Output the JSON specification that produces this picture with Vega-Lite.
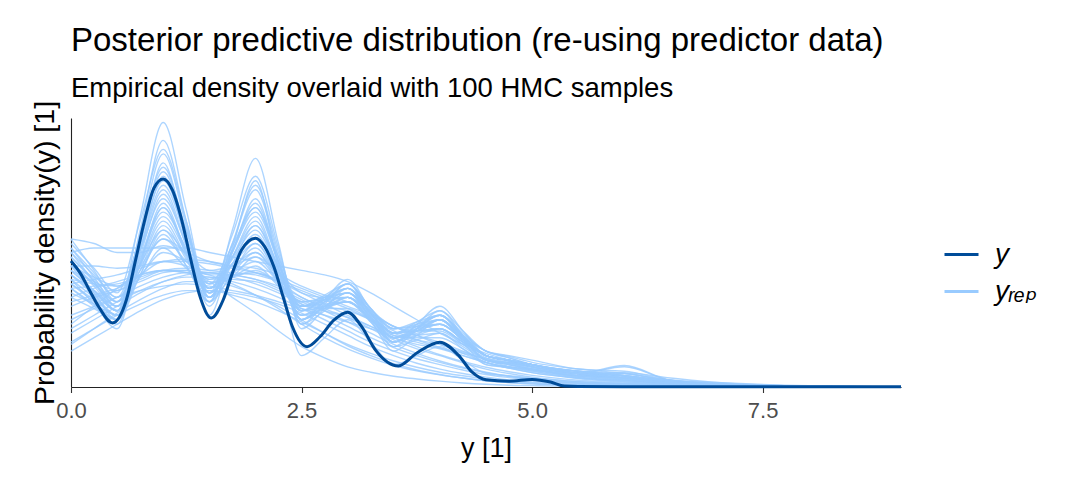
{
"$schema":"https://vega.github.io/schema/vega-lite/v6.json",
"width":830,"height":269,
"autosize":{"type":"none"},
"padding":{"left":71,"top":118,"right":178,"bottom":90},
"background":"white",
"config":{"view":{"stroke":null},"font":"Liberation Sans"},
"title":{"text":"Posterior predictive distribution (re-using predictor data)","subtitle":"Empirical density overlaid with 100 HMC samples","anchor":"start","frame":"group","font":"Liberation Sans","subtitleFont":"Liberation Sans","fontSize":33,"subtitleFontSize":27.5,"fontWeight":"normal","color":"#000","subtitleColor":"#000","offset":-2,"subtitlePadding":17},
"datasets":{
"yrep":[
{"c":1,"x":0,"d":0.30},{"c":1,"x":0.25,"d":0.235},{"c":1,"x":0.5,"d":0.17},{"c":1,"x":0.75,"d":0.38},{"c":1,"x":1,"d":0.59},{"c":1,"x":1.25,"d":0.395},{"c":1,"x":1.5,"d":0.20},{"c":1,"x":1.75,"d":0.32},{"c":1,"x":2,"d":0.44},{"c":1,"x":2.25,"d":0.29},{"c":1,"x":2.5,"d":0.14},{"c":1,"x":2.75,"d":0.17},{"c":1,"x":3,"d":0.20},{"c":1,"x":3.25,"d":0.145},{"c":1,"x":3.5,"d":0.09},{"c":1,"x":3.75,"d":0.105},{"c":1,"x":4,"d":0.12},{"c":1,"x":4.25,"d":0.085},{"c":1,"x":4.5,"d":0.05},{"c":1,"x":4.75,"d":0.043},{"c":1,"x":5,"d":0.035},{"c":1,"x":5.5,"d":0.02},{"c":1,"x":6,"d":0.015},{"c":1,"x":6.5,"d":0.008},{"c":1,"x":7,"d":0.004},{"c":1,"x":8,"d":0.001},{"c":1,"x":9,"d":0.0002},
{"c":2,"x":0,"d":0.27},{"c":2,"x":0.25,"d":0.21},{"c":2,"x":0.5,"d":0.15},{"c":2,"x":0.75,"d":0.35},{"c":2,"x":1,"d":0.55},{"c":2,"x":1.25,"d":0.37},{"c":2,"x":1.5,"d":0.19},{"c":2,"x":1.75,"d":0.35},{"c":2,"x":2,"d":0.51},{"c":2,"x":2.25,"d":0.32},{"c":2,"x":2.5,"d":0.13},{"c":2,"x":2.75,"d":0.175},{"c":2,"x":3,"d":0.22},{"c":2,"x":3.25,"d":0.15},{"c":2,"x":3.5,"d":0.08},{"c":2,"x":3.75,"d":0.115},{"c":2,"x":4,"d":0.15},{"c":2,"x":4.25,"d":0.10},{"c":2,"x":4.5,"d":0.05},{"c":2,"x":4.75,"d":0.045},{"c":2,"x":5,"d":0.04},{"c":2,"x":5.5,"d":0.025},{"c":2,"x":6,"d":0.02},{"c":2,"x":6.5,"d":0.01},{"c":2,"x":7,"d":0.005},{"c":2,"x":8,"d":0.001},{"c":2,"x":9,"d":0.0002},
{"c":3,"x":0,"d":0.25},{"c":3,"x":0.25,"d":0.205},{"c":3,"x":0.5,"d":0.16},{"c":3,"x":0.75,"d":0.34},{"c":3,"x":1,"d":0.52},{"c":3,"x":1.25,"d":0.36},{"c":3,"x":1.5,"d":0.20},{"c":3,"x":1.75,"d":0.30},{"c":3,"x":2,"d":0.40},{"c":3,"x":2.25,"d":0.275},{"c":3,"x":2.5,"d":0.15},{"c":3,"x":2.75,"d":0.18},{"c":3,"x":3,"d":0.21},{"c":3,"x":3.25,"d":0.155},{"c":3,"x":3.5,"d":0.10},{"c":3,"x":3.75,"d":0.13},{"c":3,"x":4,"d":0.16},{"c":3,"x":4.25,"d":0.11},{"c":3,"x":4.5,"d":0.06},{"c":3,"x":4.75,"d":0.053},{"c":3,"x":5,"d":0.045},{"c":3,"x":5.5,"d":0.03},{"c":3,"x":6,"d":0.045},{"c":3,"x":6.5,"d":0.015},{"c":3,"x":7,"d":0.007},{"c":3,"x":8,"d":0.001},{"c":3,"x":9,"d":0.0002},
{"c":4,"x":0,"d":0.31},{"c":4,"x":0.25,"d":0.245},{"c":4,"x":0.5,"d":0.18},{"c":4,"x":0.75,"d":0.335},{"c":4,"x":1,"d":0.49},{"c":4,"x":1.25,"d":0.35},{"c":4,"x":1.5,"d":0.21},{"c":4,"x":1.75,"d":0.29},{"c":4,"x":2,"d":0.37},{"c":4,"x":2.25,"d":0.265},{"c":4,"x":2.5,"d":0.16},{"c":4,"x":2.75,"d":0.175},{"c":4,"x":3,"d":0.19},{"c":4,"x":3.25,"d":0.145},{"c":4,"x":3.5,"d":0.10},{"c":4,"x":3.75,"d":0.115},{"c":4,"x":4,"d":0.13},{"c":4,"x":4.25,"d":0.095},{"c":4,"x":4.5,"d":0.06},{"c":4,"x":4.75,"d":0.05},{"c":4,"x":5,"d":0.04},{"c":4,"x":5.5,"d":0.025},{"c":4,"x":6,"d":0.02},{"c":4,"x":6.5,"d":0.01},{"c":4,"x":7,"d":0.005},{"c":4,"x":8,"d":0.001},{"c":4,"x":9,"d":0.0002},
{"c":5,"x":0,"d":0.22},{"c":5,"x":0.25,"d":0.18},{"c":5,"x":0.5,"d":0.14},{"c":5,"x":0.75,"d":0.305},{"c":5,"x":1,"d":0.47},{"c":5,"x":1.25,"d":0.325},{"c":5,"x":1.5,"d":0.18},{"c":5,"x":1.75,"d":0.30},{"c":5,"x":2,"d":0.42},{"c":5,"x":2.25,"d":0.28},{"c":5,"x":2.5,"d":0.14},{"c":5,"x":2.75,"d":0.185},{"c":5,"x":3,"d":0.23},{"c":5,"x":3.25,"d":0.16},{"c":5,"x":3.5,"d":0.09},{"c":5,"x":3.75,"d":0.13},{"c":5,"x":4,"d":0.17},{"c":5,"x":4.25,"d":0.115},{"c":5,"x":4.5,"d":0.06},{"c":5,"x":4.75,"d":0.055},{"c":5,"x":5,"d":0.05},{"c":5,"x":5.5,"d":0.03},{"c":5,"x":6,"d":0.025},{"c":5,"x":6.5,"d":0.012},{"c":5,"x":7,"d":0.006},{"c":5,"x":8,"d":0.001},{"c":5,"x":9,"d":0.0002},
{"c":6,"x":0,"d":0.28},{"c":6,"x":0.25,"d":0.225},{"c":6,"x":0.5,"d":0.17},{"c":6,"x":0.75,"d":0.31},{"c":6,"x":1,"d":0.45},{"c":6,"x":1.25,"d":0.335},{"c":6,"x":1.5,"d":0.22},{"c":6,"x":1.75,"d":0.285},{"c":6,"x":2,"d":0.35},{"c":6,"x":2.25,"d":0.26},{"c":6,"x":2.5,"d":0.17},{"c":6,"x":2.75,"d":0.195},{"c":6,"x":3,"d":0.22},{"c":6,"x":3.25,"d":0.165},{"c":6,"x":3.5,"d":0.11},{"c":6,"x":3.75,"d":0.125},{"c":6,"x":4,"d":0.14},{"c":6,"x":4.25,"d":0.105},{"c":6,"x":4.5,"d":0.07},{"c":6,"x":4.75,"d":0.06},{"c":6,"x":5,"d":0.05},{"c":6,"x":5.5,"d":0.03},{"c":6,"x":6,"d":0.02},{"c":6,"x":6.5,"d":0.01},{"c":6,"x":7,"d":0.005},{"c":6,"x":8,"d":0.001},{"c":6,"x":9,"d":0.0002},
{"c":7,"x":0,"d":0.24},{"c":7,"x":0.25,"d":0.20},{"c":7,"x":0.5,"d":0.16},{"c":7,"x":0.75,"d":0.295},{"c":7,"x":1,"d":0.43},{"c":7,"x":1.25,"d":0.315},{"c":7,"x":1.5,"d":0.20},{"c":7,"x":1.75,"d":0.29},{"c":7,"x":2,"d":0.38},{"c":7,"x":2.25,"d":0.265},{"c":7,"x":2.5,"d":0.15},{"c":7,"x":2.75,"d":0.175},{"c":7,"x":3,"d":0.20},{"c":7,"x":3.25,"d":0.15},{"c":7,"x":3.5,"d":0.10},{"c":7,"x":3.75,"d":0.125},{"c":7,"x":4,"d":0.15},{"c":7,"x":4.25,"d":0.105},{"c":7,"x":4.5,"d":0.06},{"c":7,"x":4.75,"d":0.05},{"c":7,"x":5,"d":0.04},{"c":7,"x":5.5,"d":0.025},{"c":7,"x":6,"d":0.03},{"c":7,"x":6.5,"d":0.012},{"c":7,"x":7,"d":0.006},{"c":7,"x":8,"d":0.001},{"c":7,"x":9,"d":0.0002},
{"c":8,"x":0,"d":0.33},{"c":8,"x":0.25,"d":0.26},{"c":8,"x":0.5,"d":0.19},{"c":8,"x":0.75,"d":0.305},{"c":8,"x":1,"d":0.42},{"c":8,"x":1.25,"d":0.32},{"c":8,"x":1.5,"d":0.22},{"c":8,"x":1.75,"d":0.275},{"c":8,"x":2,"d":0.33},{"c":8,"x":2.25,"d":0.255},{"c":8,"x":2.5,"d":0.18},{"c":8,"x":2.75,"d":0.195},{"c":8,"x":3,"d":0.21},{"c":8,"x":3.25,"d":0.165},{"c":8,"x":3.5,"d":0.12},{"c":8,"x":3.75,"d":0.125},{"c":8,"x":4,"d":0.13},{"c":8,"x":4.25,"d":0.10},{"c":8,"x":4.5,"d":0.07},{"c":8,"x":4.75,"d":0.058},{"c":8,"x":5,"d":0.045},{"c":8,"x":5.5,"d":0.03},{"c":8,"x":6,"d":0.02},{"c":8,"x":6.5,"d":0.01},{"c":8,"x":7,"d":0.005},{"c":8,"x":8,"d":0.001},{"c":8,"x":9,"d":0.0002},
{"c":9,"x":0,"d":0.20},{"c":9,"x":0.25,"d":0.175},{"c":9,"x":0.5,"d":0.15},{"c":9,"x":0.75,"d":0.275},{"c":9,"x":1,"d":0.40},{"c":9,"x":1.25,"d":0.295},{"c":9,"x":1.5,"d":0.19},{"c":9,"x":1.75,"d":0.275},{"c":9,"x":2,"d":0.36},{"c":9,"x":2.25,"d":0.26},{"c":9,"x":2.5,"d":0.16},{"c":9,"x":2.75,"d":0.19},{"c":9,"x":3,"d":0.22},{"c":9,"x":3.25,"d":0.165},{"c":9,"x":3.5,"d":0.11},{"c":9,"x":3.75,"d":0.135},{"c":9,"x":4,"d":0.16},{"c":9,"x":4.25,"d":0.115},{"c":9,"x":4.5,"d":0.07},{"c":9,"x":4.75,"d":0.06},{"c":9,"x":5,"d":0.05},{"c":9,"x":5.5,"d":0.035},{"c":9,"x":6,"d":0.025},{"c":9,"x":6.5,"d":0.012},{"c":9,"x":7,"d":0.006},{"c":9,"x":8,"d":0.001},{"c":9,"x":9,"d":0.0002},
{"c":10,"x":0,"d":0.29},{"c":10,"x":0.25,"d":0.235},{"c":10,"x":0.5,"d":0.18},{"c":10,"x":0.75,"d":0.285},{"c":10,"x":1,"d":0.39},{"c":10,"x":1.25,"d":0.31},{"c":10,"x":1.5,"d":0.23},{"c":10,"x":1.75,"d":0.275},{"c":10,"x":2,"d":0.32},{"c":10,"x":2.25,"d":0.25},{"c":10,"x":2.5,"d":0.18},{"c":10,"x":2.75,"d":0.19},{"c":10,"x":3,"d":0.20},{"c":10,"x":3.25,"d":0.16},{"c":10,"x":3.5,"d":0.12},{"c":10,"x":3.75,"d":0.13},{"c":10,"x":4,"d":0.14},{"c":10,"x":4.25,"d":0.105},{"c":10,"x":4.5,"d":0.07},{"c":10,"x":4.75,"d":0.06},{"c":10,"x":5,"d":0.05},{"c":10,"x":5.5,"d":0.03},{"c":10,"x":6,"d":0.02},{"c":10,"x":6.5,"d":0.01},{"c":10,"x":7,"d":0.005},{"c":10,"x":8,"d":0.001},{"c":10,"x":9,"d":0.0002},
{"c":11,"x":0,"d":0.26},{"c":11,"x":0.25,"d":0.215},{"c":11,"x":0.5,"d":0.17},{"c":11,"x":0.75,"d":0.27},{"c":11,"x":1,"d":0.37},{"c":11,"x":1.25,"d":0.29},{"c":11,"x":1.5,"d":0.21},{"c":11,"x":1.75,"d":0.26},{"c":11,"x":2,"d":0.31},{"c":11,"x":2.25,"d":0.24},{"c":11,"x":2.5,"d":0.17},{"c":11,"x":2.75,"d":0.18},{"c":11,"x":3,"d":0.19},{"c":11,"x":3.25,"d":0.15},{"c":11,"x":3.5,"d":0.11},{"c":11,"x":3.75,"d":0.12},{"c":11,"x":4,"d":0.13},{"c":11,"x":4.25,"d":0.10},{"c":11,"x":4.5,"d":0.07},{"c":11,"x":4.75,"d":0.058},{"c":11,"x":5,"d":0.045},{"c":11,"x":5.5,"d":0.03},{"c":11,"x":6,"d":0.02},{"c":11,"x":6.5,"d":0.01},{"c":11,"x":7,"d":0.005},{"c":11,"x":8,"d":0.001},{"c":11,"x":9,"d":0.0002},
{"c":12,"x":0,"d":0.23},{"c":12,"x":0.25,"d":0.195},{"c":12,"x":0.5,"d":0.16},{"c":12,"x":0.75,"d":0.26},{"c":12,"x":1,"d":0.36},{"c":12,"x":1.25,"d":0.285},{"c":12,"x":1.5,"d":0.21},{"c":12,"x":1.75,"d":0.275},{"c":12,"x":2,"d":0.34},{"c":12,"x":2.25,"d":0.255},{"c":12,"x":2.5,"d":0.17},{"c":12,"x":2.75,"d":0.20},{"c":12,"x":3,"d":0.23},{"c":12,"x":3.25,"d":0.175},{"c":12,"x":3.5,"d":0.12},{"c":12,"x":3.75,"d":0.145},{"c":12,"x":4,"d":0.17},{"c":12,"x":4.25,"d":0.125},{"c":12,"x":4.5,"d":0.08},{"c":12,"x":4.75,"d":0.068},{"c":12,"x":5,"d":0.055},{"c":12,"x":5.5,"d":0.04},{"c":12,"x":6,"d":0.03},{"c":12,"x":6.5,"d":0.015},{"c":12,"x":7,"d":0.007},{"c":12,"x":8,"d":0.0015},{"c":12,"x":9,"d":0.0003},
{"c":13,"x":0,"d":0.30},{"c":13,"x":0.25,"d":0.25},{"c":13,"x":0.5,"d":0.20},{"c":13,"x":0.75,"d":0.275},{"c":13,"x":1,"d":0.35},{"c":13,"x":1.25,"d":0.295},{"c":13,"x":1.5,"d":0.24},{"c":13,"x":1.75,"d":0.27},{"c":13,"x":2,"d":0.30},{"c":13,"x":2.25,"d":0.245},{"c":13,"x":2.5,"d":0.19},{"c":13,"x":2.75,"d":0.20},{"c":13,"x":3,"d":0.21},{"c":13,"x":3.25,"d":0.17},{"c":13,"x":3.5,"d":0.13},{"c":13,"x":3.75,"d":0.14},{"c":13,"x":4,"d":0.15},{"c":13,"x":4.25,"d":0.115},{"c":13,"x":4.5,"d":0.08},{"c":13,"x":4.75,"d":0.065},{"c":13,"x":5,"d":0.05},{"c":13,"x":5.5,"d":0.035},{"c":13,"x":6,"d":0.025},{"c":13,"x":6.5,"d":0.012},{"c":13,"x":7,"d":0.006},{"c":13,"x":8,"d":0.001},{"c":13,"x":9,"d":0.0002},
{"c":14,"x":0,"d":0.21},{"c":14,"x":0.25,"d":0.185},{"c":14,"x":0.5,"d":0.16},{"c":14,"x":0.75,"d":0.25},{"c":14,"x":1,"d":0.34},{"c":14,"x":1.25,"d":0.27},{"c":14,"x":1.5,"d":0.20},{"c":14,"x":1.75,"d":0.245},{"c":14,"x":2,"d":0.29},{"c":14,"x":2.25,"d":0.235},{"c":14,"x":2.5,"d":0.18},{"c":14,"x":2.75,"d":0.20},{"c":14,"x":3,"d":0.22},{"c":14,"x":3.25,"d":0.175},{"c":14,"x":3.5,"d":0.13},{"c":14,"x":3.75,"d":0.145},{"c":14,"x":4,"d":0.16},{"c":14,"x":4.25,"d":0.12},{"c":14,"x":4.5,"d":0.08},{"c":14,"x":4.75,"d":0.07},{"c":14,"x":5,"d":0.06},{"c":14,"x":5.5,"d":0.04},{"c":14,"x":6,"d":0.035},{"c":14,"x":6.5,"d":0.015},{"c":14,"x":7,"d":0.008},{"c":14,"x":8,"d":0.002},{"c":14,"x":9,"d":0.0004},
{"c":15,"x":0,"d":0.27},{"c":15,"x":0.25,"d":0.23},{"c":15,"x":0.5,"d":0.19},{"c":15,"x":0.75,"d":0.26},{"c":15,"x":1,"d":0.33},{"c":15,"x":1.25,"d":0.28},{"c":15,"x":1.5,"d":0.23},{"c":15,"x":1.75,"d":0.255},{"c":15,"x":2,"d":0.28},{"c":15,"x":2.25,"d":0.235},{"c":15,"x":2.5,"d":0.19},{"c":15,"x":2.75,"d":0.195},{"c":15,"x":3,"d":0.20},{"c":15,"x":3.25,"d":0.165},{"c":15,"x":3.5,"d":0.13},{"c":15,"x":3.75,"d":0.135},{"c":15,"x":4,"d":0.14},{"c":15,"x":4.25,"d":0.11},{"c":15,"x":4.5,"d":0.08},{"c":15,"x":4.75,"d":0.065},{"c":15,"x":5,"d":0.05},{"c":15,"x":5.5,"d":0.035},{"c":15,"x":6,"d":0.025},{"c":15,"x":6.5,"d":0.012},{"c":15,"x":7,"d":0.006},{"c":15,"x":8,"d":0.001},{"c":15,"x":9,"d":0.0002},
{"c":16,"x":0,"d":0.25},{"c":16,"x":0.25,"d":0.215},{"c":16,"x":0.5,"d":0.18},{"c":16,"x":0.75,"d":0.245},{"c":16,"x":1,"d":0.31},{"c":16,"x":1.25,"d":0.265},{"c":16,"x":1.5,"d":0.22},{"c":16,"x":1.75,"d":0.245},{"c":16,"x":2,"d":0.27},{"c":16,"x":2.25,"d":0.225},{"c":16,"x":2.5,"d":0.18},{"c":16,"x":2.75,"d":0.185},{"c":16,"x":3,"d":0.19},{"c":16,"x":3.25,"d":0.155},{"c":16,"x":3.5,"d":0.12},{"c":16,"x":3.75,"d":0.125},{"c":16,"x":4,"d":0.13},{"c":16,"x":4.25,"d":0.10},{"c":16,"x":4.5,"d":0.07},{"c":16,"x":4.75,"d":0.058},{"c":16,"x":5,"d":0.045},{"c":16,"x":5.5,"d":0.03},{"c":16,"x":6,"d":0.02},{"c":16,"x":6.5,"d":0.01},{"c":16,"x":7,"d":0.005},{"c":16,"x":8,"d":0.001},{"c":16,"x":9,"d":0.0002},
{"c":17,"x":0,"d":0.32},{"c":17,"x":0.25,"d":0.265},{"c":17,"x":0.5,"d":0.21},{"c":17,"x":0.75,"d":0.37},{"c":17,"x":1,"d":0.53},{"c":17,"x":1.25,"d":0.37},{"c":17,"x":1.5,"d":0.21},{"c":17,"x":1.75,"d":0.34},{"c":17,"x":2,"d":0.47},{"c":17,"x":2.25,"d":0.31},{"c":17,"x":2.5,"d":0.15},{"c":17,"x":2.75,"d":0.19},{"c":17,"x":3,"d":0.23},{"c":17,"x":3.25,"d":0.165},{"c":17,"x":3.5,"d":0.10},{"c":17,"x":3.75,"d":0.14},{"c":17,"x":4,"d":0.18},{"c":17,"x":4.25,"d":0.125},{"c":17,"x":4.5,"d":0.07},{"c":17,"x":4.75,"d":0.06},{"c":17,"x":5,"d":0.05},{"c":17,"x":5.5,"d":0.03},{"c":17,"x":6,"d":0.048},{"c":17,"x":6.5,"d":0.015},{"c":17,"x":7,"d":0.007},{"c":17,"x":8,"d":0.001},{"c":17,"x":9,"d":0.0002},
{"c":18,"x":0,"d":0.24},{"c":18,"x":0.25,"d":0.185},{"c":18,"x":0.5,"d":0.13},{"c":18,"x":0.75,"d":0.315},{"c":18,"x":1,"d":0.50},{"c":18,"x":1.25,"d":0.33},{"c":18,"x":1.5,"d":0.16},{"c":18,"x":1.75,"d":0.31},{"c":18,"x":2,"d":0.46},{"c":18,"x":2.25,"d":0.265},{"c":18,"x":2.5,"d":0.07},{"c":18,"x":2.75,"d":0.11},{"c":18,"x":3,"d":0.15},{"c":18,"x":3.25,"d":0.10},{"c":18,"x":3.5,"d":0.05},{"c":18,"x":3.75,"d":0.07},{"c":18,"x":4,"d":0.09},{"c":18,"x":4.25,"d":0.06},{"c":18,"x":4.5,"d":0.03},{"c":18,"x":4.75,"d":0.025},{"c":18,"x":5,"d":0.02},{"c":18,"x":5.5,"d":0.012},{"c":18,"x":6,"d":0.008},{"c":18,"x":6.5,"d":0.004},{"c":18,"x":7,"d":0.002},{"c":18,"x":8,"d":0.0005},{"c":18,"x":9,"d":0.0001},
{"c":19,"x":0,"d":0.30},{"c":19,"x":0.25,"d":0.31},{"c":19,"x":0.5,"d":0.31},{"c":19,"x":0.75,"d":0.31},{"c":19,"x":1,"d":0.31},{"c":19,"x":1.25,"d":0.31},{"c":19,"x":1.5,"d":0.30},{"c":19,"x":1.75,"d":0.29},{"c":19,"x":2,"d":0.28},{"c":19,"x":2.25,"d":0.27},{"c":19,"x":2.5,"d":0.26},{"c":19,"x":2.75,"d":0.25},{"c":19,"x":3,"d":0.235},{"c":19,"x":3.25,"d":0.21},{"c":19,"x":3.5,"d":0.18},{"c":19,"x":3.75,"d":0.15},{"c":19,"x":4,"d":0.12},{"c":19,"x":4.25,"d":0.095},{"c":19,"x":4.5,"d":0.075},{"c":19,"x":4.75,"d":0.06},{"c":19,"x":5,"d":0.045},{"c":19,"x":5.5,"d":0.03},{"c":19,"x":6,"d":0.02},{"c":19,"x":6.5,"d":0.012},{"c":19,"x":7,"d":0.007},{"c":19,"x":8,"d":0.002},{"c":19,"x":9,"d":0.0005},
{"c":20,"x":0,"d":0.10},{"c":20,"x":0.25,"d":0.13},{"c":20,"x":0.5,"d":0.16},{"c":20,"x":0.75,"d":0.185},{"c":20,"x":1,"d":0.205},{"c":20,"x":1.25,"d":0.215},{"c":20,"x":1.5,"d":0.215},{"c":20,"x":1.75,"d":0.205},{"c":20,"x":2,"d":0.19},{"c":20,"x":2.25,"d":0.17},{"c":20,"x":2.5,"d":0.145},{"c":20,"x":2.75,"d":0.12},{"c":20,"x":3,"d":0.095},{"c":20,"x":3.25,"d":0.075},{"c":20,"x":3.5,"d":0.058},{"c":20,"x":3.75,"d":0.044},{"c":20,"x":4,"d":0.033},{"c":20,"x":4.25,"d":0.025},{"c":20,"x":4.5,"d":0.018},{"c":20,"x":4.75,"d":0.013},{"c":20,"x":5,"d":0.009},{"c":20,"x":5.5,"d":0.005},{"c":20,"x":6,"d":0.003},{"c":20,"x":6.5,"d":0.0015},{"c":20,"x":7,"d":0.0008},{"c":20,"x":8,"d":0.0002},{"c":20,"x":9,"d":0.0001},
{"c":21,"x":0,"d":0.08},{"c":21,"x":0.25,"d":0.11},{"c":21,"x":0.5,"d":0.14},{"c":21,"x":0.75,"d":0.17},{"c":21,"x":1,"d":0.195},{"c":21,"x":1.25,"d":0.21},{"c":21,"x":1.5,"d":0.215},{"c":21,"x":1.75,"d":0.21},{"c":21,"x":2,"d":0.20},{"c":21,"x":2.25,"d":0.185},{"c":21,"x":2.5,"d":0.165},{"c":21,"x":2.75,"d":0.14},{"c":21,"x":3,"d":0.115},{"c":21,"x":3.25,"d":0.09},{"c":21,"x":3.5,"d":0.07},{"c":21,"x":3.75,"d":0.053},{"c":21,"x":4,"d":0.04},{"c":21,"x":4.25,"d":0.03},{"c":21,"x":4.5,"d":0.022},{"c":21,"x":4.75,"d":0.016},{"c":21,"x":5,"d":0.011},{"c":21,"x":5.5,"d":0.006},{"c":21,"x":6,"d":0.003},{"c":21,"x":6.5,"d":0.0015},{"c":21,"x":7,"d":0.0008},{"c":21,"x":8,"d":0.0002},{"c":21,"x":9,"d":0.0001},
{"c":22,"x":0,"d":0.14},{"c":22,"x":0.25,"d":0.18},{"c":22,"x":0.5,"d":0.22},{"c":22,"x":0.75,"d":0.25},{"c":22,"x":1,"d":0.26},{"c":22,"x":1.25,"d":0.255},{"c":22,"x":1.5,"d":0.235},{"c":22,"x":1.75,"d":0.20},{"c":22,"x":2,"d":0.165},{"c":22,"x":2.25,"d":0.125},{"c":22,"x":2.5,"d":0.09},{"c":22,"x":2.75,"d":0.065},{"c":22,"x":3,"d":0.045},{"c":22,"x":3.25,"d":0.033},{"c":22,"x":3.5,"d":0.024},{"c":22,"x":3.75,"d":0.018},{"c":22,"x":4,"d":0.013},{"c":22,"x":4.25,"d":0.009},{"c":22,"x":4.5,"d":0.006},{"c":22,"x":4.75,"d":0.004},{"c":22,"x":5,"d":0.003},{"c":22,"x":5.5,"d":0.0015},{"c":22,"x":6,"d":0.0008},{"c":22,"x":6.5,"d":0.0004},{"c":22,"x":7,"d":0.0002},{"c":22,"x":8,"d":0.0001},{"c":22,"x":9,"d":0.0001},
{"c":23,"x":0,"d":0.24},{"c":23,"x":0.25,"d":0.23},{"c":23,"x":0.5,"d":0.225},{"c":23,"x":0.75,"d":0.25},{"c":23,"x":1,"d":0.28},{"c":23,"x":1.25,"d":0.27},{"c":23,"x":1.5,"d":0.25},{"c":23,"x":1.75,"d":0.25},{"c":23,"x":2,"d":0.255},{"c":23,"x":2.25,"d":0.235},{"c":23,"x":2.5,"d":0.20},{"c":23,"x":2.75,"d":0.18},{"c":23,"x":3,"d":0.17},{"c":23,"x":3.25,"d":0.15},{"c":23,"x":3.5,"d":0.12},{"c":23,"x":3.75,"d":0.105},{"c":23,"x":4,"d":0.095},{"c":23,"x":4.25,"d":0.075},{"c":23,"x":4.5,"d":0.055},{"c":23,"x":4.75,"d":0.042},{"c":23,"x":5,"d":0.032},{"c":23,"x":5.5,"d":0.02},{"c":23,"x":6,"d":0.012},{"c":23,"x":6.5,"d":0.006},{"c":23,"x":7,"d":0.003},{"c":23,"x":8,"d":0.0007},{"c":23,"x":9,"d":0.0002},
{"c":24,"x":0,"d":0.18},{"c":24,"x":0.25,"d":0.20},{"c":24,"x":0.5,"d":0.215},{"c":24,"x":0.75,"d":0.235},{"c":24,"x":1,"d":0.255},{"c":24,"x":1.25,"d":0.26},{"c":24,"x":1.5,"d":0.255},{"c":24,"x":1.75,"d":0.25},{"c":24,"x":2,"d":0.24},{"c":24,"x":2.25,"d":0.225},{"c":24,"x":2.5,"d":0.20},{"c":24,"x":2.75,"d":0.175},{"c":24,"x":3,"d":0.155},{"c":24,"x":3.25,"d":0.13},{"c":24,"x":3.5,"d":0.105},{"c":24,"x":3.75,"d":0.085},{"c":24,"x":4,"d":0.07},{"c":24,"x":4.25,"d":0.054},{"c":24,"x":4.5,"d":0.04},{"c":24,"x":4.75,"d":0.03},{"c":24,"x":5,"d":0.022},{"c":24,"x":5.5,"d":0.012},{"c":24,"x":6,"d":0.007},{"c":24,"x":6.5,"d":0.004},{"c":24,"x":7,"d":0.002},{"c":24,"x":8,"d":0.0005},{"c":24,"x":9,"d":0.0001},
{"c":25,"x":0,"d":0.12},{"c":25,"x":0.25,"d":0.15},{"c":25,"x":0.5,"d":0.18},{"c":25,"x":0.75,"d":0.21},{"c":25,"x":1,"d":0.235},{"c":25,"x":1.25,"d":0.25},{"c":25,"x":1.5,"d":0.255},{"c":25,"x":1.75,"d":0.25},{"c":25,"x":2,"d":0.24},{"c":25,"x":2.25,"d":0.22},{"c":25,"x":2.5,"d":0.195},{"c":25,"x":2.75,"d":0.17},{"c":25,"x":3,"d":0.145},{"c":25,"x":3.25,"d":0.12},{"c":25,"x":3.5,"d":0.095},{"c":25,"x":3.75,"d":0.075},{"c":25,"x":4,"d":0.058},{"c":25,"x":4.25,"d":0.044},{"c":25,"x":4.5,"d":0.033},{"c":25,"x":4.75,"d":0.024},{"c":25,"x":5,"d":0.017},{"c":25,"x":5.5,"d":0.009},{"c":25,"x":6,"d":0.005},{"c":25,"x":6.5,"d":0.0025},{"c":25,"x":7,"d":0.0012},{"c":25,"x":8,"d":0.0003},{"c":25,"x":9,"d":0.0001},
{"c":26,"x":0,"d":0.26},{"c":26,"x":0.25,"d":0.235},{"c":26,"x":0.5,"d":0.215},{"c":26,"x":0.75,"d":0.25},{"c":26,"x":1,"d":0.30},{"c":26,"x":1.25,"d":0.28},{"c":26,"x":1.5,"d":0.24},{"c":26,"x":1.75,"d":0.245},{"c":26,"x":2,"d":0.26},{"c":26,"x":2.25,"d":0.23},{"c":26,"x":2.5,"d":0.185},{"c":26,"x":2.75,"d":0.175},{"c":26,"x":3,"d":0.175},{"c":26,"x":3.25,"d":0.15},{"c":26,"x":3.5,"d":0.115},{"c":26,"x":3.75,"d":0.11},{"c":26,"x":4,"d":0.11},{"c":26,"x":4.25,"d":0.085},{"c":26,"x":4.5,"d":0.055},{"c":26,"x":4.75,"d":0.045},{"c":26,"x":5,"d":0.038},{"c":26,"x":5.5,"d":0.022},{"c":26,"x":6,"d":0.015},{"c":26,"x":6.5,"d":0.007},{"c":26,"x":7,"d":0.003},{"c":26,"x":8,"d":0.0007},{"c":26,"x":9,"d":0.0002},
{"c":27,"x":0,"d":0.095},{"c":27,"x":0.25,"d":0.13},{"c":27,"x":0.5,"d":0.165},{"c":27,"x":0.75,"d":0.195},{"c":27,"x":1,"d":0.22},{"c":27,"x":1.25,"d":0.235},{"c":27,"x":1.5,"d":0.235},{"c":27,"x":1.75,"d":0.225},{"c":27,"x":2,"d":0.205},{"c":27,"x":2.25,"d":0.18},{"c":27,"x":2.5,"d":0.15},{"c":27,"x":2.75,"d":0.12},{"c":27,"x":3,"d":0.092},{"c":27,"x":3.25,"d":0.07},{"c":27,"x":3.5,"d":0.052},{"c":27,"x":3.75,"d":0.038},{"c":27,"x":4,"d":0.028},{"c":27,"x":4.25,"d":0.02},{"c":27,"x":4.5,"d":0.014},{"c":27,"x":4.75,"d":0.01},{"c":27,"x":5,"d":0.007},{"c":27,"x":5.5,"d":0.0035},{"c":27,"x":6,"d":0.0017},{"c":27,"x":6.5,"d":0.0008},{"c":27,"x":7,"d":0.0004},{"c":27,"x":8,"d":0.0001},{"c":27,"x":9,"d":0.0001},
{"c":28,"x":0,"d":0.33},{"c":28,"x":0.25,"d":0.32},{"c":28,"x":0.5,"d":0.30},{"c":28,"x":0.75,"d":0.30},{"c":28,"x":1,"d":0.315},{"c":28,"x":1.25,"d":0.30},{"c":28,"x":1.5,"d":0.28},{"c":28,"x":1.75,"d":0.27},{"c":28,"x":2,"d":0.265},{"c":28,"x":2.25,"d":0.25},{"c":28,"x":2.5,"d":0.225},{"c":28,"x":2.75,"d":0.205},{"c":28,"x":3,"d":0.19},{"c":28,"x":3.25,"d":0.165},{"c":28,"x":3.5,"d":0.135},{"c":28,"x":3.75,"d":0.115},{"c":28,"x":4,"d":0.10},{"c":28,"x":4.25,"d":0.08},{"c":28,"x":4.5,"d":0.06},{"c":28,"x":4.75,"d":0.046},{"c":28,"x":5,"d":0.036},{"c":28,"x":5.5,"d":0.022},{"c":28,"x":6,"d":0.014},{"c":28,"x":6.5,"d":0.008},{"c":28,"x":7,"d":0.004},{"c":28,"x":8,"d":0.001},{"c":28,"x":9,"d":0.0003},
{"c":29,"x":0,"d":0.16},{"c":29,"x":0.25,"d":0.18},{"c":29,"x":0.5,"d":0.20},{"c":29,"x":0.75,"d":0.215},{"c":29,"x":1,"d":0.225},{"c":29,"x":1.25,"d":0.23},{"c":29,"x":1.5,"d":0.225},{"c":29,"x":1.75,"d":0.215},{"c":29,"x":2,"d":0.205},{"c":29,"x":2.25,"d":0.19},{"c":29,"x":2.5,"d":0.175},{"c":29,"x":2.75,"d":0.16},{"c":29,"x":3,"d":0.145},{"c":29,"x":3.25,"d":0.13},{"c":29,"x":3.5,"d":0.115},{"c":29,"x":3.75,"d":0.10},{"c":29,"x":4,"d":0.087},{"c":29,"x":4.25,"d":0.075},{"c":29,"x":4.5,"d":0.064},{"c":29,"x":4.75,"d":0.055},{"c":29,"x":5,"d":0.047},{"c":29,"x":5.5,"d":0.034},{"c":29,"x":6,"d":0.024},{"c":29,"x":6.5,"d":0.016},{"c":29,"x":7,"d":0.01},{"c":29,"x":8,"d":0.003},{"c":29,"x":9,"d":0.0008},
{"c":30,"x":0,"d":0.20},{"c":30,"x":0.25,"d":0.22},{"c":30,"x":0.5,"d":0.235},{"c":30,"x":0.75,"d":0.25},{"c":30,"x":1,"d":0.26},{"c":30,"x":1.25,"d":0.26},{"c":30,"x":1.5,"d":0.25},{"c":30,"x":1.75,"d":0.23},{"c":30,"x":2,"d":0.205},{"c":30,"x":2.25,"d":0.175},{"c":30,"x":2.5,"d":0.14},{"c":30,"x":2.75,"d":0.11},{"c":30,"x":3,"d":0.085},{"c":30,"x":3.25,"d":0.065},{"c":30,"x":3.5,"d":0.048},{"c":30,"x":3.75,"d":0.036},{"c":30,"x":4,"d":0.027},{"c":30,"x":4.25,"d":0.02},{"c":30,"x":4.5,"d":0.014},{"c":30,"x":4.75,"d":0.01},{"c":30,"x":5,"d":0.007},{"c":30,"x":5.5,"d":0.0035},{"c":30,"x":6,"d":0.0017},{"c":30,"x":6.5,"d":0.0008},{"c":30,"x":7,"d":0.0004},{"c":30,"x":8,"d":0.0001},{"c":30,"x":9,"d":0.0001},
{"c":31,"x":0,"d":0.22},{"c":31,"x":0.25,"d":0.225},{"c":31,"x":0.5,"d":0.23},{"c":31,"x":0.75,"d":0.245},{"c":31,"x":1,"d":0.26},{"c":31,"x":1.25,"d":0.255},{"c":31,"x":1.5,"d":0.245},{"c":31,"x":1.75,"d":0.24},{"c":31,"x":2,"d":0.235},{"c":31,"x":2.25,"d":0.215},{"c":31,"x":2.5,"d":0.19},{"c":31,"x":2.75,"d":0.17},{"c":31,"x":3,"d":0.155},{"c":31,"x":3.25,"d":0.135},{"c":31,"x":3.5,"d":0.11},{"c":31,"x":3.75,"d":0.095},{"c":31,"x":4,"d":0.085},{"c":31,"x":4.25,"d":0.07},{"c":31,"x":4.5,"d":0.055},{"c":31,"x":4.75,"d":0.045},{"c":31,"x":5,"d":0.038},{"c":31,"x":5.5,"d":0.03},{"c":31,"x":6,"d":0.032},{"c":31,"x":6.5,"d":0.02},{"c":31,"x":7,"d":0.01},{"c":31,"x":8,"d":0.002},{"c":31,"x":9,"d":0.0005},
{"c":32,"x":0,"d":0.26},{"c":32,"x":0.25,"d":0.215},{"c":32,"x":0.5,"d":0.17},{"c":32,"x":0.75,"d":0.305},{"c":32,"x":1,"d":0.44},{"c":32,"x":1.25,"d":0.32},{"c":32,"x":1.5,"d":0.20},{"c":32,"x":1.75,"d":0.305},{"c":32,"x":2,"d":0.41},{"c":32,"x":2.25,"d":0.28},{"c":32,"x":2.5,"d":0.15},{"c":32,"x":2.75,"d":0.18},{"c":32,"x":3,"d":0.21},{"c":32,"x":3.25,"d":0.155},{"c":32,"x":3.5,"d":0.10},{"c":32,"x":3.75,"d":0.125},{"c":32,"x":4,"d":0.15},{"c":32,"x":4.25,"d":0.105},{"c":32,"x":4.5,"d":0.06},{"c":32,"x":4.75,"d":0.053},{"c":32,"x":5,"d":0.045},{"c":32,"x":5.5,"d":0.03},{"c":32,"x":6,"d":0.025},{"c":32,"x":6.5,"d":0.012},{"c":32,"x":7,"d":0.006},{"c":32,"x":8,"d":0.001},{"c":32,"x":9,"d":0.0002},
{"c":33,"x":0,"d":0.29},{"c":33,"x":0.25,"d":0.24},{"c":33,"x":0.5,"d":0.19},{"c":33,"x":0.75,"d":0.335},{"c":33,"x":1,"d":0.48},{"c":33,"x":1.25,"d":0.35},{"c":33,"x":1.5,"d":0.22},{"c":33,"x":1.75,"d":0.305},{"c":33,"x":2,"d":0.39},{"c":33,"x":2.25,"d":0.28},{"c":33,"x":2.5,"d":0.17},{"c":33,"x":2.75,"d":0.195},{"c":33,"x":3,"d":0.22},{"c":33,"x":3.25,"d":0.165},{"c":33,"x":3.5,"d":0.11},{"c":33,"x":3.75,"d":0.13},{"c":33,"x":4,"d":0.15},{"c":33,"x":4.25,"d":0.11},{"c":33,"x":4.5,"d":0.07},{"c":33,"x":4.75,"d":0.06},{"c":33,"x":5,"d":0.05},{"c":33,"x":5.5,"d":0.03},{"c":33,"x":6,"d":0.02},{"c":33,"x":6.5,"d":0.01},{"c":33,"x":7,"d":0.005},{"c":33,"x":8,"d":0.001},{"c":33,"x":9,"d":0.0002},
{"c":34,"x":0,"d":0.23},{"c":34,"x":0.25,"d":0.19},{"c":34,"x":0.5,"d":0.15},{"c":34,"x":0.75,"d":0.28},{"c":34,"x":1,"d":0.41},{"c":34,"x":1.25,"d":0.30},{"c":34,"x":1.5,"d":0.19},{"c":34,"x":1.75,"d":0.32},{"c":34,"x":2,"d":0.45},{"c":34,"x":2.25,"d":0.30},{"c":34,"x":2.5,"d":0.15},{"c":34,"x":2.75,"d":0.195},{"c":34,"x":3,"d":0.24},{"c":34,"x":3.25,"d":0.17},{"c":34,"x":3.5,"d":0.10},{"c":34,"x":3.75,"d":0.13},{"c":34,"x":4,"d":0.16},{"c":34,"x":4.25,"d":0.11},{"c":34,"x":4.5,"d":0.06},{"c":34,"x":4.75,"d":0.053},{"c":34,"x":5,"d":0.045},{"c":34,"x":5.5,"d":0.03},{"c":34,"x":6,"d":0.02},{"c":34,"x":6.5,"d":0.01},{"c":34,"x":7,"d":0.005},{"c":34,"x":8,"d":0.001},{"c":34,"x":9,"d":0.0002},
{"c":35,"x":0,"d":0.28},{"c":35,"x":0.25,"d":0.23},{"c":35,"x":0.5,"d":0.18},{"c":35,"x":0.75,"d":0.29},{"c":35,"x":1,"d":0.40},{"c":35,"x":1.25,"d":0.305},{"c":35,"x":1.5,"d":0.21},{"c":35,"x":1.75,"d":0.255},{"c":35,"x":2,"d":0.30},{"c":35,"x":2.25,"d":0.235},{"c":35,"x":2.5,"d":0.17},{"c":35,"x":2.75,"d":0.18},{"c":35,"x":3,"d":0.19},{"c":35,"x":3.25,"d":0.15},{"c":35,"x":3.5,"d":0.11},{"c":35,"x":3.75,"d":0.115},{"c":35,"x":4,"d":0.12},{"c":35,"x":4.25,"d":0.09},{"c":35,"x":4.5,"d":0.06},{"c":35,"x":4.75,"d":0.05},{"c":35,"x":5,"d":0.04},{"c":35,"x":5.5,"d":0.025},{"c":35,"x":6,"d":0.018},{"c":35,"x":6.5,"d":0.009},{"c":35,"x":7,"d":0.004},{"c":35,"x":8,"d":0.001},{"c":35,"x":9,"d":0.0002},
{"c":36,"x":0,"d":0.25},{"c":36,"x":0.25,"d":0.21},{"c":36,"x":0.5,"d":0.17},{"c":36,"x":0.75,"d":0.275},{"c":36,"x":1,"d":0.38},{"c":36,"x":1.25,"d":0.30},{"c":36,"x":1.5,"d":0.22},{"c":36,"x":1.75,"d":0.29},{"c":36,"x":2,"d":0.36},{"c":36,"x":2.25,"d":0.27},{"c":36,"x":2.5,"d":0.18},{"c":36,"x":2.75,"d":0.195},{"c":36,"x":3,"d":0.21},{"c":36,"x":3.25,"d":0.165},{"c":36,"x":3.5,"d":0.12},{"c":36,"x":3.75,"d":0.135},{"c":36,"x":4,"d":0.15},{"c":36,"x":4.25,"d":0.11},{"c":36,"x":4.5,"d":0.07},{"c":36,"x":4.75,"d":0.06},{"c":36,"x":5,"d":0.05},{"c":36,"x":5.5,"d":0.035},{"c":36,"x":6,"d":0.03},{"c":36,"x":6.5,"d":0.014},{"c":36,"x":7,"d":0.007},{"c":36,"x":8,"d":0.0015},{"c":36,"x":9,"d":0.0003},
{"c":37,"x":0,"d":0.31},{"c":37,"x":0.25,"d":0.255},{"c":37,"x":0.5,"d":0.20},{"c":37,"x":0.75,"d":0.33},{"c":37,"x":1,"d":0.46},{"c":37,"x":1.25,"d":0.345},{"c":37,"x":1.5,"d":0.23},{"c":37,"x":1.75,"d":0.315},{"c":37,"x":2,"d":0.40},{"c":37,"x":2.25,"d":0.29},{"c":37,"x":2.5,"d":0.18},{"c":37,"x":2.75,"d":0.205},{"c":37,"x":3,"d":0.23},{"c":37,"x":3.25,"d":0.175},{"c":37,"x":3.5,"d":0.12},{"c":37,"x":3.75,"d":0.14},{"c":37,"x":4,"d":0.16},{"c":37,"x":4.25,"d":0.115},{"c":37,"x":4.5,"d":0.07},{"c":37,"x":4.75,"d":0.06},{"c":37,"x":5,"d":0.05},{"c":37,"x":5.5,"d":0.03},{"c":37,"x":6,"d":0.022},{"c":37,"x":6.5,"d":0.011},{"c":37,"x":7,"d":0.005},{"c":37,"x":8,"d":0.001},{"c":37,"x":9,"d":0.0002},
{"c":38,"x":0,"d":0.22},{"c":38,"x":0.25,"d":0.185},{"c":38,"x":0.5,"d":0.15},{"c":38,"x":0.75,"d":0.25},{"c":38,"x":1,"d":0.35},{"c":38,"x":1.25,"d":0.27},{"c":38,"x":1.5,"d":0.19},{"c":38,"x":1.75,"d":0.255},{"c":38,"x":2,"d":0.32},{"c":38,"x":2.25,"d":0.24},{"c":38,"x":2.5,"d":0.16},{"c":38,"x":2.75,"d":0.18},{"c":38,"x":3,"d":0.20},{"c":38,"x":3.25,"d":0.155},{"c":38,"x":3.5,"d":0.11},{"c":38,"x":3.75,"d":0.125},{"c":38,"x":4,"d":0.14},{"c":38,"x":4.25,"d":0.105},{"c":38,"x":4.5,"d":0.07},{"c":38,"x":4.75,"d":0.06},{"c":38,"x":5,"d":0.05},{"c":38,"x":5.5,"d":0.035},{"c":38,"x":6,"d":0.025},{"c":38,"x":6.5,"d":0.012},{"c":38,"x":7,"d":0.006},{"c":38,"x":8,"d":0.001},{"c":38,"x":9,"d":0.0002},
{"c":39,"x":0,"d":0.27},{"c":39,"x":0.25,"d":0.27},{"c":39,"x":0.5,"d":0.265},{"c":39,"x":0.75,"d":0.27},{"c":39,"x":1,"d":0.28},{"c":39,"x":1.25,"d":0.28},{"c":39,"x":1.5,"d":0.275},{"c":39,"x":1.75,"d":0.265},{"c":39,"x":2,"d":0.255},{"c":39,"x":2.25,"d":0.24},{"c":39,"x":2.5,"d":0.22},{"c":39,"x":2.75,"d":0.20},{"c":39,"x":3,"d":0.18},{"c":39,"x":3.25,"d":0.16},{"c":39,"x":3.5,"d":0.135},{"c":39,"x":3.75,"d":0.115},{"c":39,"x":4,"d":0.095},{"c":39,"x":4.25,"d":0.078},{"c":39,"x":4.5,"d":0.062},{"c":39,"x":4.75,"d":0.05},{"c":39,"x":5,"d":0.04},{"c":39,"x":5.5,"d":0.025},{"c":39,"x":6,"d":0.016},{"c":39,"x":6.5,"d":0.009},{"c":39,"x":7,"d":0.005},{"c":39,"x":8,"d":0.001},{"c":39,"x":9,"d":0.0003},
{"c":40,"x":0,"d":0.13},{"c":40,"x":0.25,"d":0.16},{"c":40,"x":0.5,"d":0.19},{"c":40,"x":0.75,"d":0.215},{"c":40,"x":1,"d":0.235},{"c":40,"x":1.25,"d":0.245},{"c":40,"x":1.5,"d":0.245},{"c":40,"x":1.75,"d":0.235},{"c":40,"x":2,"d":0.22},{"c":40,"x":2.25,"d":0.20},{"c":40,"x":2.5,"d":0.175},{"c":40,"x":2.75,"d":0.15},{"c":40,"x":3,"d":0.125},{"c":40,"x":3.25,"d":0.10},{"c":40,"x":3.5,"d":0.08},{"c":40,"x":3.75,"d":0.063},{"c":40,"x":4,"d":0.05},{"c":40,"x":4.25,"d":0.038},{"c":40,"x":4.5,"d":0.028},{"c":40,"x":4.75,"d":0.021},{"c":40,"x":5,"d":0.015},{"c":40,"x":5.5,"d":0.008},{"c":40,"x":6,"d":0.004},{"c":40,"x":6.5,"d":0.002},{"c":40,"x":7,"d":0.001},{"c":40,"x":8,"d":0.0002},{"c":40,"x":9,"d":0.0001},
{"c":41,"x":0,"d":0.19},{"c":41,"x":0.25,"d":0.205},{"c":41,"x":0.5,"d":0.22},{"c":41,"x":0.75,"d":0.24},{"c":41,"x":1,"d":0.26},{"c":41,"x":1.25,"d":0.265},{"c":41,"x":1.5,"d":0.26},{"c":41,"x":1.75,"d":0.255},{"c":41,"x":2,"d":0.25},{"c":41,"x":2.25,"d":0.235},{"c":41,"x":2.5,"d":0.215},{"c":41,"x":2.75,"d":0.195},{"c":41,"x":3,"d":0.175},{"c":41,"x":3.25,"d":0.15},{"c":41,"x":3.5,"d":0.125},{"c":41,"x":3.75,"d":0.105},{"c":41,"x":4,"d":0.088},{"c":41,"x":4.25,"d":0.07},{"c":41,"x":4.5,"d":0.054},{"c":41,"x":4.75,"d":0.042},{"c":41,"x":5,"d":0.032},{"c":41,"x":5.5,"d":0.019},{"c":41,"x":6,"d":0.011},{"c":41,"x":6.5,"d":0.006},{"c":41,"x":7,"d":0.003},{"c":41,"x":8,"d":0.0007},{"c":41,"x":9,"d":0.0002},
{"c":42,"x":0,"d":0.27},{"c":42,"x":0.25,"d":0.245},{"c":42,"x":0.5,"d":0.225},{"c":42,"x":0.75,"d":0.27},{"c":42,"x":1,"d":0.33},{"c":42,"x":1.25,"d":0.30},{"c":42,"x":1.5,"d":0.26},{"c":42,"x":1.75,"d":0.27},{"c":42,"x":2,"d":0.29},{"c":42,"x":2.25,"d":0.255},{"c":42,"x":2.5,"d":0.21},{"c":42,"x":2.75,"d":0.20},{"c":42,"x":3,"d":0.20},{"c":42,"x":3.25,"d":0.17},{"c":42,"x":3.5,"d":0.135},{"c":42,"x":3.75,"d":0.125},{"c":42,"x":4,"d":0.125},{"c":42,"x":4.25,"d":0.095},{"c":42,"x":4.5,"d":0.065},{"c":42,"x":4.75,"d":0.052},{"c":42,"x":5,"d":0.042},{"c":42,"x":5.5,"d":0.026},{"c":42,"x":6,"d":0.018},{"c":42,"x":6.5,"d":0.009},{"c":42,"x":7,"d":0.004},{"c":42,"x":8,"d":0.001},{"c":42,"x":9,"d":0.0002},
{"c":43,"x":0,"d":0.15},{"c":43,"x":0.25,"d":0.175},{"c":43,"x":0.5,"d":0.20},{"c":43,"x":0.75,"d":0.225},{"c":43,"x":1,"d":0.245},{"c":43,"x":1.25,"d":0.255},{"c":43,"x":1.5,"d":0.255},{"c":43,"x":1.75,"d":0.245},{"c":43,"x":2,"d":0.23},{"c":43,"x":2.25,"d":0.21},{"c":43,"x":2.5,"d":0.185},{"c":43,"x":2.75,"d":0.16},{"c":43,"x":3,"d":0.135},{"c":43,"x":3.25,"d":0.11},{"c":43,"x":3.5,"d":0.088},{"c":43,"x":3.75,"d":0.07},{"c":43,"x":4,"d":0.055},{"c":43,"x":4.25,"d":0.042},{"c":43,"x":4.5,"d":0.032},{"c":43,"x":4.75,"d":0.024},{"c":43,"x":5,"d":0.018},{"c":43,"x":5.5,"d":0.01},{"c":43,"x":6,"d":0.006},{"c":43,"x":6.5,"d":0.003},{"c":43,"x":7,"d":0.0015},{"c":43,"x":8,"d":0.0003},{"c":43,"x":9,"d":0.0001},
{"c":44,"x":0,"d":0.23},{"c":44,"x":0.25,"d":0.24},{"c":44,"x":0.5,"d":0.25},{"c":44,"x":0.75,"d":0.265},{"c":44,"x":1,"d":0.28},{"c":44,"x":1.25,"d":0.285},{"c":44,"x":1.5,"d":0.28},{"c":44,"x":1.75,"d":0.27},{"c":44,"x":2,"d":0.255},{"c":44,"x":2.25,"d":0.235},{"c":44,"x":2.5,"d":0.21},{"c":44,"x":2.75,"d":0.185},{"c":44,"x":3,"d":0.16},{"c":44,"x":3.25,"d":0.135},{"c":44,"x":3.5,"d":0.11},{"c":44,"x":3.75,"d":0.09},{"c":44,"x":4,"d":0.072},{"c":44,"x":4.25,"d":0.057},{"c":44,"x":4.5,"d":0.044},{"c":44,"x":4.75,"d":0.034},{"c":44,"x":5,"d":0.026},{"c":44,"x":5.5,"d":0.015},{"c":44,"x":6,"d":0.009},{"c":44,"x":6.5,"d":0.005},{"c":44,"x":7,"d":0.0025},{"c":44,"x":8,"d":0.0006},{"c":44,"x":9,"d":0.0001}
],
"y":[
{"x":0,"d":0.281},{"x":0.1,"d":0.254},{"x":0.2,"d":0.216},{"x":0.3,"d":0.179},{"x":0.45,"d":0.143},{"x":0.6,"d":0.194},{"x":0.7,"d":0.283},{"x":0.8,"d":0.373},{"x":0.9,"d":0.444},{"x":1.0,"d":0.464},{"x":1.1,"d":0.439},{"x":1.2,"d":0.373},{"x":1.3,"d":0.283},{"x":1.4,"d":0.201},{"x":1.52,"d":0.154},{"x":1.65,"d":0.194},{"x":1.75,"d":0.254},{"x":1.85,"d":0.306},{"x":2.0,"d":0.332},{"x":2.1,"d":0.313},{"x":2.2,"d":0.268},{"x":2.3,"d":0.201},{"x":2.4,"d":0.135},{"x":2.56,"d":0.090},{"x":2.7,"d":0.112},{"x":2.85,"d":0.149},{"x":3.0,"d":0.167},{"x":3.15,"d":0.135},{"x":3.3,"d":0.083},{"x":3.55,"d":0.047},{"x":3.75,"d":0.076},{"x":4.0,"d":0.100},{"x":4.2,"d":0.071},{"x":4.35,"d":0.033},{"x":4.5,"d":0.016},{"x":4.75,"d":0.013},{"x":5.0,"d":0.017},{"x":5.2,"d":0.011},{"x":5.35,"d":0.002},{"x":5.5,"d":0.001},{"x":6,"d":0.0008},{"x":7,"d":0.0005},{"x":8,"d":0.0004},{"x":9,"d":0.0003}
]},
"layer":[
{"data":{"name":"yrep"},
 "mark":{"type":"line","interpolate":"monotone","strokeWidth":1.4,"opacity":0.8},
 "encoding":{
  "x":{"field":"x","type":"quantitative","title":"y [1]","scale":{"domain":[0,9],"nice":false,"zero":false},
   "axis":{"values":[0,2.5,5,7.5],"format":".1f","grid":false,"labelFontSize":22,"labelColor":"#4d4d4d","labelFont":"Liberation Sans","labelPadding":8,"labelFlush":false,"tickColor":"#333","tickSize":5.5,"tickWidth":1.1,"domainColor":"#222","domainWidth":1.1,"titleFont":"Liberation Sans","titleFontSize":27,"titleFontWeight":"normal","titleColor":"#000","titlePadding":14}},
  "y":{"field":"d","type":"quantitative","title":"Probability density(y) [1]","scale":{"domain":[0,0.6],"nice":false},
   "axis":{"ticks":false,"labels":false,"grid":false,"domainColor":"#222","domainWidth":1.1,"titleFont":"Liberation Sans","titleFontSize":28.5,"titleFontWeight":"normal","titleColor":"#000","titlePadding":12}},
  "detail":{"field":"c"},
  "color":{"datum":"yᵣₑₚ","scale":{"domain":["y","yᵣₑₚ"],"range":["#004c99","#99cbff"]},
   "legend":{"title":null,"orient":"none","legendX":872,"legendY":118,"symbolType":"stroke","symbolSize":1156,"symbolStrokeWidth":3,"symbolOpacity":1,"labelFontSize":28,"labelFontStyle":"italic","labelFont":"Liberation Sans, DejaVu Sans","labelColor":"#000","labelOffset":15,"rowPadding":4}}
 }},
{"data":{"name":"y"},
 "mark":{"type":"line","interpolate":"monotone","strokeWidth":3},
 "encoding":{
  "x":{"field":"x","type":"quantitative"},
  "y":{"field":"d","type":"quantitative"},
  "color":{"datum":"y"}
 }}
]
}
